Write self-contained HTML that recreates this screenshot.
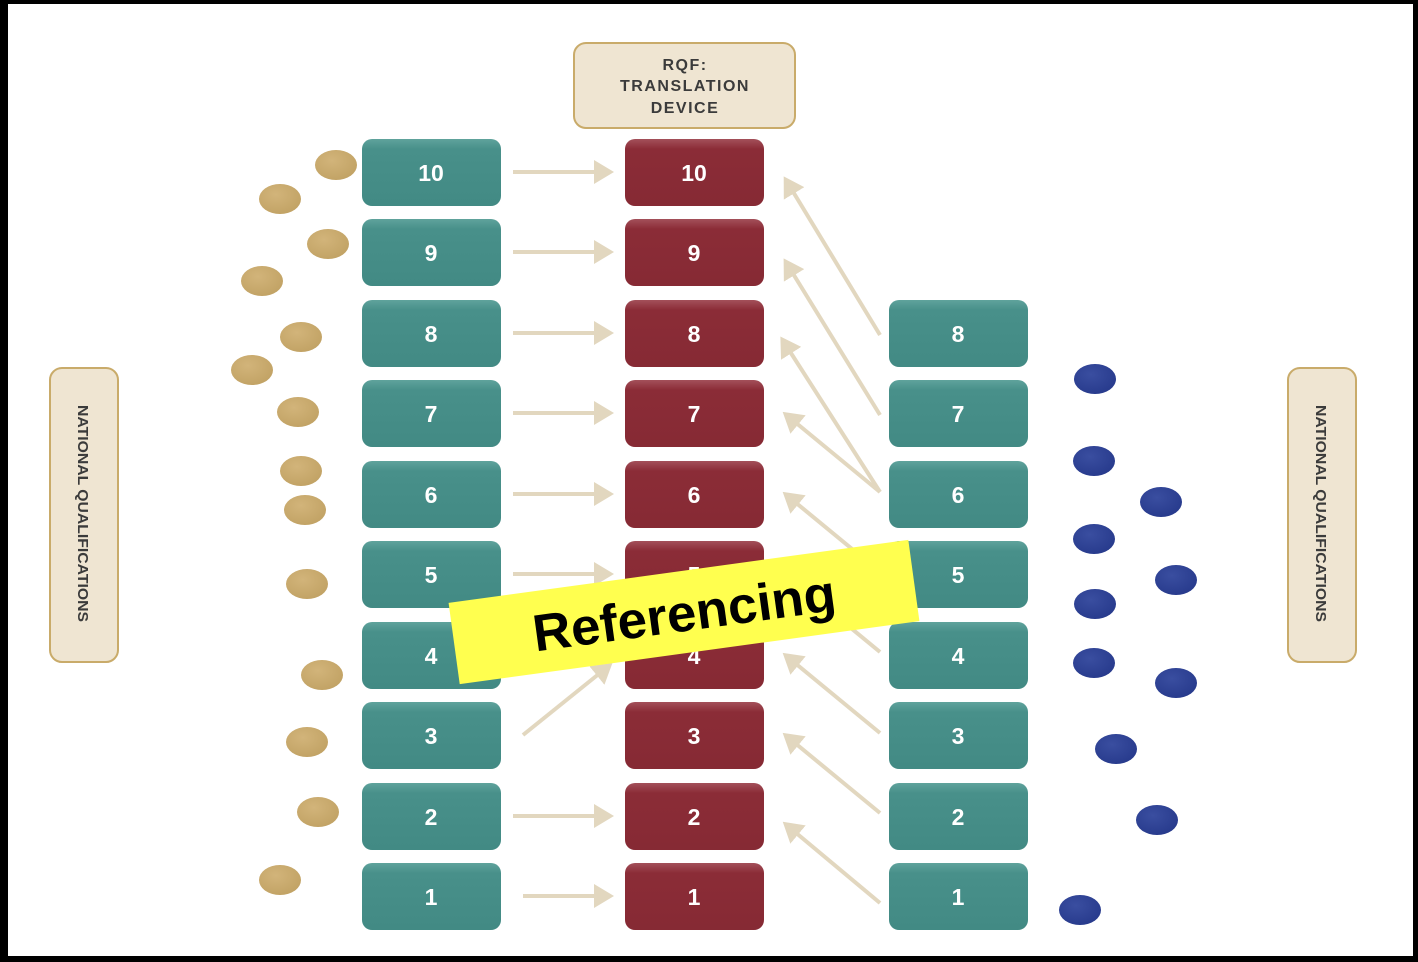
<!DOCTYPE html>
<html><head><meta charset="utf-8"><style>
html,body{margin:0;padding:0;background:#fff}
svg{display:block}
</style></head><body>
<svg width="1418" height="962" viewBox="0 0 1418 962" xmlns="http://www.w3.org/2000/svg">
<defs>
<marker id="ah" markerWidth="6" markerHeight="6" refX="1" refY="3" orient="auto" markerUnits="strokeWidth">
<path d="M0,0 L5,3 L0,6 Z" fill="#e2d7bf"/>
</marker>
<linearGradient id="tg" x1="0" y1="0" x2="0" y2="1"><stop offset="0" stop-color="#5fa39c"/><stop offset="0.15" stop-color="#48908a"/><stop offset="1" stop-color="#428a84"/></linearGradient>
<linearGradient id="rg" x1="0" y1="0" x2="0" y2="1"><stop offset="0" stop-color="#a3505a"/><stop offset="0.15" stop-color="#8b2c37"/><stop offset="1" stop-color="#862a34"/></linearGradient>
<radialGradient id="gd" cx="0.4" cy="0.35" r="0.7"><stop offset="0" stop-color="#d2b47a"/><stop offset="1" stop-color="#c1a264"/></radialGradient>
<radialGradient id="bd" cx="0.4" cy="0.35" r="0.7"><stop offset="0" stop-color="#3a4ea0"/><stop offset="1" stop-color="#273a8c"/></radialGradient>
</defs>
<rect x="0" y="0" width="1418" height="962" fill="#000"/>
<rect x="8" y="4" width="1405" height="952" fill="#fff"/>

<!-- side labels -->
<rect x="50" y="368" width="68" height="294" rx="12" fill="#efe5d2" stroke="#c9ab6a" stroke-width="2"/>
<text transform="translate(78,405) rotate(90)" font-family="Liberation Sans, sans-serif" font-weight="bold" font-size="15" fill="#3b3b3b" textLength="217" lengthAdjust="spacingAndGlyphs">NATIONAL QUALIFICATIONS</text>
<rect x="1288" y="368" width="68" height="294" rx="12" fill="#efe5d2" stroke="#c9ab6a" stroke-width="2"/>
<text transform="translate(1316,405) rotate(90)" font-family="Liberation Sans, sans-serif" font-weight="bold" font-size="15" fill="#3b3b3b" textLength="217" lengthAdjust="spacingAndGlyphs">NATIONAL QUALIFICATIONS</text>

<!-- RQF box -->
<rect x="574" y="43" width="221" height="85" rx="12" fill="#efe5d2" stroke="#c9ab6a" stroke-width="2"/>
<g font-family="Liberation Sans, sans-serif" font-weight="bold" font-size="16" fill="#3b3b3b" text-anchor="middle" letter-spacing="1.5">
<text x="685" y="70">RQF:</text>
<text x="685" y="91">TRANSLATION</text>
<text x="685" y="113">DEVICE</text>
</g>

<!-- arrows -->
<g stroke="#e2d7bf" stroke-width="4" fill="none" marker-end="url(#ah)">
<line x1="513" y1="172" x2="598" y2="172"/>
<line x1="513" y1="252" x2="598" y2="252"/>
<line x1="513" y1="333" x2="598" y2="333"/>
<line x1="513" y1="413" x2="598" y2="413"/>
<line x1="513" y1="494" x2="598" y2="494"/>
<line x1="513" y1="574" x2="598" y2="574"/>
<line x1="523" y1="735" x2="600" y2="673"/>
<line x1="513" y1="816" x2="598" y2="816"/>
<line x1="523" y1="896" x2="598" y2="896"/>
<line x1="880" y1="335" x2="792" y2="190"/>
<line x1="880" y1="415" x2="792" y2="272"/>
<line x1="880" y1="492" x2="789" y2="350"/>
<line x1="880" y1="492" x2="795" y2="422"/>
<line x1="880" y1="572" x2="795" y2="502"/>
<line x1="880" y1="652" x2="795" y2="582"/>
<line x1="880" y1="733" x2="795" y2="663"/>
<line x1="880" y1="813" x2="795" y2="743"/>
<line x1="880" y1="903" x2="795" y2="832"/>
</g>

<!-- boxes -->
<g font-family="Liberation Sans, sans-serif" font-weight="bold" font-size="23" fill="#fff" text-anchor="middle">
<g id="rows">
<rect x="362" y="139" width="139" height="67" rx="10" fill="url(#tg)"/><text x="431" y="181">10</text>
<rect x="625" y="139" width="139" height="67" rx="10" fill="url(#rg)"/><text x="694" y="181">10</text>
<rect x="362" y="219" width="139" height="67" rx="10" fill="url(#tg)"/><text x="431" y="261">9</text>
<rect x="625" y="219" width="139" height="67" rx="10" fill="url(#rg)"/><text x="694" y="261">9</text>
<rect x="362" y="300" width="139" height="67" rx="10" fill="url(#tg)"/><text x="431" y="342">8</text>
<rect x="625" y="300" width="139" height="67" rx="10" fill="url(#rg)"/><text x="694" y="342">8</text>
<rect x="889" y="300" width="139" height="67" rx="10" fill="url(#tg)"/><text x="958" y="342">8</text>
<rect x="362" y="380" width="139" height="67" rx="10" fill="url(#tg)"/><text x="431" y="422">7</text>
<rect x="625" y="380" width="139" height="67" rx="10" fill="url(#rg)"/><text x="694" y="422">7</text>
<rect x="889" y="380" width="139" height="67" rx="10" fill="url(#tg)"/><text x="958" y="422">7</text>
<rect x="362" y="461" width="139" height="67" rx="10" fill="url(#tg)"/><text x="431" y="503">6</text>
<rect x="625" y="461" width="139" height="67" rx="10" fill="url(#rg)"/><text x="694" y="503">6</text>
<rect x="889" y="461" width="139" height="67" rx="10" fill="url(#tg)"/><text x="958" y="503">6</text>
<rect x="362" y="541" width="139" height="67" rx="10" fill="url(#tg)"/><text x="431" y="583">5</text>
<rect x="625" y="541" width="139" height="67" rx="10" fill="url(#rg)"/><text x="694" y="583">5</text>
<rect x="889" y="541" width="139" height="67" rx="10" fill="url(#tg)"/><text x="958" y="583">5</text>
<rect x="362" y="622" width="139" height="67" rx="10" fill="url(#tg)"/><text x="431" y="664">4</text>
<rect x="625" y="622" width="139" height="67" rx="10" fill="url(#rg)"/><text x="694" y="664">4</text>
<rect x="889" y="622" width="139" height="67" rx="10" fill="url(#tg)"/><text x="958" y="664">4</text>
<rect x="362" y="702" width="139" height="67" rx="10" fill="url(#tg)"/><text x="431" y="744">3</text>
<rect x="625" y="702" width="139" height="67" rx="10" fill="url(#rg)"/><text x="694" y="744">3</text>
<rect x="889" y="702" width="139" height="67" rx="10" fill="url(#tg)"/><text x="958" y="744">3</text>
<rect x="362" y="783" width="139" height="67" rx="10" fill="url(#tg)"/><text x="431" y="825">2</text>
<rect x="625" y="783" width="139" height="67" rx="10" fill="url(#rg)"/><text x="694" y="825">2</text>
<rect x="889" y="783" width="139" height="67" rx="10" fill="url(#tg)"/><text x="958" y="825">2</text>
<rect x="362" y="863" width="139" height="67" rx="10" fill="url(#tg)"/><text x="431" y="905">1</text>
<rect x="625" y="863" width="139" height="67" rx="10" fill="url(#rg)"/><text x="694" y="905">1</text>
<rect x="889" y="863" width="139" height="67" rx="10" fill="url(#tg)"/><text x="958" y="905">1</text>
</g>
</g>

<!-- gold dots -->
<g fill="url(#gd)">
<ellipse cx="336" cy="165" rx="21" ry="15"/>
<ellipse cx="280" cy="199" rx="21" ry="15"/>
<ellipse cx="328" cy="244" rx="21" ry="15"/>
<ellipse cx="262" cy="281" rx="21" ry="15"/>
<ellipse cx="301" cy="337" rx="21" ry="15"/>
<ellipse cx="252" cy="370" rx="21" ry="15"/>
<ellipse cx="298" cy="412" rx="21" ry="15"/>
<ellipse cx="301" cy="471" rx="21" ry="15"/>
<ellipse cx="305" cy="510" rx="21" ry="15"/>
<ellipse cx="307" cy="584" rx="21" ry="15"/>
<ellipse cx="322" cy="675" rx="21" ry="15"/>
<ellipse cx="307" cy="742" rx="21" ry="15"/>
<ellipse cx="318" cy="812" rx="21" ry="15"/>
<ellipse cx="280" cy="880" rx="21" ry="15"/>
</g>
<!-- blue dots -->
<g fill="url(#bd)">
<ellipse cx="1095" cy="379" rx="21" ry="15"/>
<ellipse cx="1094" cy="461" rx="21" ry="15"/>
<ellipse cx="1161" cy="502" rx="21" ry="15"/>
<ellipse cx="1094" cy="539" rx="21" ry="15"/>
<ellipse cx="1176" cy="580" rx="21" ry="15"/>
<ellipse cx="1095" cy="604" rx="21" ry="15"/>
<ellipse cx="1094" cy="663" rx="21" ry="15"/>
<ellipse cx="1176" cy="683" rx="21" ry="15"/>
<ellipse cx="1116" cy="749" rx="21" ry="15"/>
<ellipse cx="1157" cy="820" rx="21" ry="15"/>
<ellipse cx="1080" cy="910" rx="21" ry="15"/>
</g>

<!-- banner -->
<g transform="translate(684,612) rotate(-7.8)">
<rect x="-232" y="-41" width="464" height="82" fill="#ffff4f"/>
<text x="0" y="19" text-anchor="middle" font-family="Liberation Sans, sans-serif" font-weight="bold" font-size="52" fill="#000" textLength="305" lengthAdjust="spacingAndGlyphs">Referencing</text>
</g>
</svg>
</body></html>
